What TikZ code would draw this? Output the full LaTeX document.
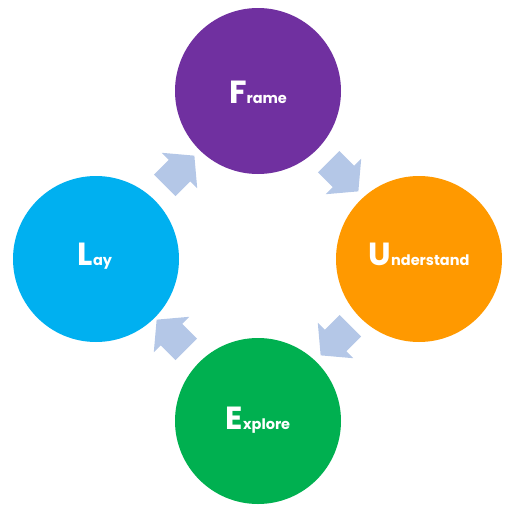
\documentclass[tikz,border=0pt]{standalone}
\usepackage{fontspec}
\setmainfont{Poppins}
\usetikzlibrary{shapes.arrows}
\definecolor{cframe}{HTML}{7030A0}
\definecolor{cund}{HTML}{FF9900}
\definecolor{cexp}{HTML}{00B050}
\definecolor{clay}{HTML}{00B0F0}
\definecolor{carrow}{HTML}{B4C7E7}
\tikzset{
  stage/.style={circle, fill=#1, draw=none, minimum size=166pt, inner sep=0pt},
  lbl/.style={text=white, anchor=base, inner sep=0pt, font=\bfseries},
  blockarrow/.style={single arrow, fill=carrow, draw=none, inner xsep=0pt, inner ysep=15pt,
    minimum height=42pt, single arrow head extend=10pt, single arrow tip angle=100, single arrow head indent=0pt}
}
\newcommand{\stagelabel}[2]{{\fontsize{32}{32}\selectfont #1}{\fontsize{14.5}{14.5}\selectfont #2}}
\begin{document}
\begin{tikzpicture}[x=1pt,y=-1pt]
\useasboundingbox (0,0) rectangle (515,515);
\node[stage=cframe] (frame) at (258,91) {};
\node[stage=cund] (und) at (419,259) {};
\node[stage=cexp] (exp) at (258,421) {};
\node[stage=clay] (lay) at (96,259) {};
\node[lbl] (tframe) at (258,103) {\stagelabel{F}{rame}};
\node[lbl] (tund) at (419,265) {\stagelabel{U}{nderstand}};
\node[lbl] (texp) at (258,429) {\stagelabel{E}{xplore}};
\node[lbl] (tlay) at (95,265) {\stagelabel{L}{ay}};
\node[blockarrow, rotate=45] (a1) at (175,175) {};
\node[blockarrow, rotate=-45] (a2) at (339,172) {};
\node[blockarrow, rotate=-135] (a3) at (340,336) {};
\node[blockarrow, rotate=135] (a4) at (176,339) {};
\end{tikzpicture}
\end{document}
